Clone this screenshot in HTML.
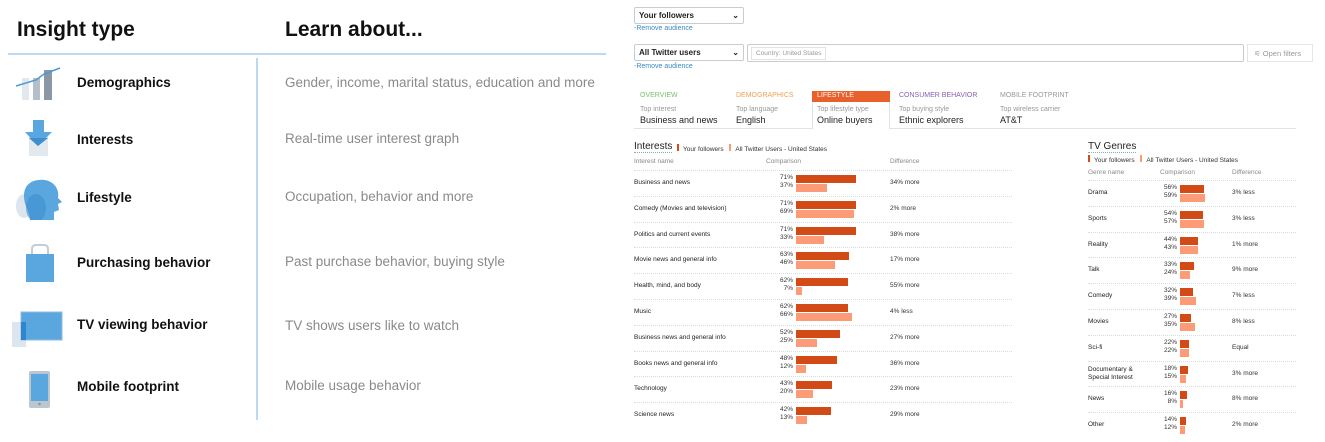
<!DOCTYPE html>
<html><head><meta charset="utf-8">
<style>
*{margin:0;padding:0;box-sizing:border-box}
body{width:1325px;height:442px;background:#fff;font-family:"Liberation Sans",sans-serif;position:relative;overflow:hidden;color:#222}
.a{position:absolute;white-space:nowrap}
.h1{font-size:21px;font-weight:bold;color:#111}
.lbl{font-size:13.5px;font-weight:bold;color:#111}
.desc{font-size:13.5px;color:#8a8a8a}
.dd{border:1px solid #c8ccd0;border-radius:2px;font-size:8px;font-weight:bold;padding:3px 4px;height:17px;background:#fff}
.link{font-size:7px;color:#3b88c3}
.tab{font-size:7px}
.tabs{font-size:7px;color:#999}
.tabv{font-size:9px;color:#222}
</style></head><body>
<div class="a h1" style="left:17px;top:18px">Insight type</div>
<div class="a h1" style="left:285px;top:18px">Learn about...</div>
<div class="a" style="left:8px;top:53px;width:598px;height:2px;background:#bcd9ef"></div>
<div class="a" style="left:256px;top:58px;width:2px;height:362px;background:#bcd9ef"></div>

<svg class="a" style="left:14px;top:66px" width="48" height="36"><rect x="8" y="12" width="7" height="22" fill="#e3e8ee"/><rect x="19" y="12" width="7" height="22" fill="#b5bfc9"/><rect x="30" y="4" width="8" height="30" fill="#8a97a4"/><polyline points="2,20 22,14 30,8 46,2" fill="none" stroke="#4a9ad6" stroke-width="1.5"/></svg>
<svg class="a" style="left:24px;top:120px" width="30" height="40"><rect x="5" y="14" width="19" height="22" fill="#e3e8ee"/><rect x="9" y="0" width="11" height="12" fill="#5aa6df"/><polygon points="1,12 28,12 14,26" fill="#5aa6df"/><polygon points="5,18 24,18 14,26" fill="#3d8fd0"/></svg>
<svg class="a" style="left:14px;top:178px" width="48" height="42"><ellipse cx="10" cy="28" rx="8" ry="12" fill="#dde5ee"/><path d="M24 2 C38 0 46 10 44 20 L48 24 L44 26 L45 32 L40 34 L40 42 L16 42 C16 34 10 28 10 18 C10 8 16 3 24 2Z" fill="#5aa6df"/><ellipse cx="22" cy="30" rx="10" ry="14" fill="#3d8fd0" opacity=".6"/></svg>
<svg class="a" style="left:24px;top:244px" width="32" height="40"><path d="M8 12 V5 Q8 1 12 1 H20 Q24 1 24 5 V12" fill="none" stroke="#c5ccd3" stroke-width="2"/><rect x="2" y="10" width="28" height="28" fill="#5aa6df"/></svg>
<svg class="a" style="left:10px;top:310px" width="54" height="38"><rect x="2" y="12" width="14" height="25" fill="#dde5ee"/><rect x="11" y="2" width="41" height="28" fill="#5aa6df" stroke="#8fbde3"/><rect x="11" y="12" width="5" height="18" fill="#2f86cd"/></svg>
<svg class="a" style="left:28px;top:370px" width="24" height="40"><rect x="1" y="1" width="21" height="37" rx="2" fill="#bcc6d0"/><rect x="3" y="4" width="17" height="27" fill="#5aa6df"/><circle cx="11.5" cy="34" r="1.3" fill="#8a97a4"/></svg>

<div class="a lbl" style="left:77px;top:75px">Demographics</div>
<div class="a lbl" style="left:77px;top:132px">Interests</div>
<div class="a lbl" style="left:77px;top:190px">Lifestyle</div>
<div class="a lbl" style="left:77px;top:255px">Purchasing behavior</div>
<div class="a lbl" style="left:77px;top:317px">TV viewing behavior</div>
<div class="a lbl" style="left:77px;top:379px">Mobile footprint</div>
<div class="a desc" style="left:285px;top:75px">Gender, income, marital status, education and more</div>
<div class="a desc" style="left:285px;top:131px">Real-time user interest graph</div>
<div class="a desc" style="left:285px;top:189px">Occupation, behavior and more</div>
<div class="a desc" style="left:285px;top:254px">Past purchase behavior, buying style</div>
<div class="a desc" style="left:285px;top:318px">TV shows users like to watch</div>
<div class="a desc" style="left:285px;top:378px">Mobile usage behavior</div>

<div class="a dd" style="left:634px;top:7px;width:110px">Your followers<span style="float:right">⌄</span></div>
<div class="a link" style="left:634px;top:25px">-Remove audience</div>
<div class="a dd" style="left:634px;top:44px;width:110px">All Twitter users<span style="float:right">⌄</span></div>
<div class="a" style="left:747px;top:44px;width:497px;height:18px;border:1px solid #c8ccd0;border-radius:2px"><span style="position:absolute;left:3px;top:2px;font-size:6.5px;color:#999;border:1px solid #e3e3e3;padding:2px 4px">Country: United States</span></div>
<div class="a" style="left:1247px;top:44px;width:66px;height:18px;border:1px solid #e6e6e6;font-size:7.5px;color:#999;padding:4px 6px">⚟ Open filters</div>
<div class="a link" style="left:634px;top:63px">-Remove audience</div>

<div class="a tab" style="left:640px;top:92px;color:#7bbf6a">OVERVIEW</div>
<div class="a tab" style="left:736px;top:92px;color:#f0a055">DEMOGRAPHICS</div>
<div class="a" style="left:812px;top:91px;width:78px;height:11px;background:#e8602c"></div>
<div class="a tab" style="left:817px;top:92px;color:#fff">LIFESTYLE</div>
<div class="a tab" style="left:899px;top:92px;color:#8a5fb0">CONSUMER BEHAVIOR</div>
<div class="a tab" style="left:1000px;top:92px;color:#999">MOBILE FOOTPRINT</div>
<div class="a" style="left:812px;top:102px;width:78px;height:27px;border:1px solid #dde3e8;border-top:none;border-bottom:none;background:#fff"></div>
<div class="a" style="left:634px;top:128px;width:178px;height:1px;background:#dde3e8"></div>
<div class="a" style="left:890px;top:128px;width:406px;height:1px;background:#dde3e8"></div>
<div class="a tabs" style="left:640px;top:106px">Top interest</div><div class="a tabv" style="left:640px;top:115px">Business and news</div>
<div class="a tabs" style="left:736px;top:106px">Top language</div><div class="a tabv" style="left:736px;top:115px">English</div>
<div class="a tabs" style="left:817px;top:106px">Top lifestyle type</div><div class="a tabv" style="left:817px;top:115px">Online buyers</div>
<div class="a tabs" style="left:899px;top:106px">Top buying style</div><div class="a tabv" style="left:899px;top:115px">Ethnic explorers</div>
<div class="a tabs" style="left:1000px;top:106px">Top wireless carrier</div><div class="a tabv" style="left:1000px;top:115px">AT&amp;T</div>

<div id="charts"></div>
<script>
const intCats=["Business and news","Comedy (Movies and television)","Politics and current events","Movie news and general info","Health, mind, and body","Music","Business news and general info","Books news and general info","Technology","Science news"];
const intFollowers=[71,71,71,63,62,62,52,48,43,42];
const intAll=[37,69,33,46,7,66,25,12,20,13];
const intDiff=["34% more","2% more","38% more","17% more","55% more","4% less","27% more","36% more","23% more","29% more"];
const tvCats=["Drama","Sports","Reality","Talk","Comedy","Movies","Sci-fi","Documentary &\nSpecial Interest","News","Other"];
const tvFollowers=[56,54,44,33,32,27,22,18,16,14];
const tvAll=[59,57,43,24,39,35,22,15,8,12];
const tvDiff=["3% less","3% less","1% more","9% more","7% less","8% less","Equal","3% more","8% more","2% more"];

const root=document.getElementById('charts');
function el(html,style){const d=document.createElement('div');d.className='a';d.style.cssText=style;d.innerHTML=html;root.appendChild(d);return d;}
function table(cfg){
  const t=el(cfg.title,`left:${cfg.x}px;top:${cfg.y}px;font-size:10px;color:#222;border-bottom:1px dotted #8ab`);
  
  
  const lg=el(`<span style="display:inline-block;width:2px;height:7px;background:#d24a16;margin-right:4px"></span>Your followers <span style="display:inline-block;width:2px;height:7px;background:#fb9b78;margin:0 4px 0 4px"></span>All Twitter Users - United States`,`left:${cfg.lx}px;top:${cfg.ly}px;font-size:6.5px;color:#333`);
  
  
  [[cfg.title==='Interests'?'Interest name':'Genre name',cfg.x],['Comparison',cfg.cx],['Difference',cfg.dx]].forEach(h=>{
    const e=el(h[0],`left:${h[1]}px;top:${cfg.hy}px;font-size:6.5px;color:#888`);
    
    
  });
  const sc=v=>v*cfg.scale;
  for(let i=0;i<cfg.cats.length;i++){
    const top=cfg.ry+i*25.8;
    const ln=el('',`left:${cfg.x}px;top:${top}px;width:${cfg.w}px;border-top:1px dotted #d8dde2`);
    
    
    const cy=top+13;
    const two=cfg.cats[i].includes('\n');
    const nm=el(cfg.cats[i].replace('\n','<br>'),`left:${cfg.x}px;top:${cy-(two?8:4)}px;font-size:6.5px;color:#222;line-height:8px`);
    
    
    const p1=el(cfg.f[i]+'%',`left:${cfg.bx-30}px;width:27px;text-align:right;top:${cy-9}px;font-size:6.5px;color:#333`);
    
    
    const p2=el(cfg.a[i]+'%',`left:${cfg.bx-30}px;width:27px;text-align:right;top:${cy-1}px;font-size:6.5px;color:#333`);
    
    
    const b1=el('',`left:${cfg.bx}px;top:${cy-8}px;width:${sc(cfg.f[i])}px;height:8px;background:#d24a16`);
    
    
    const b2=el('',`left:${cfg.bx}px;top:${cy+1}px;width:${sc(cfg.a[i])}px;height:8px;background:#fb9b78`);
    
    
    const df=el(cfg.d[i],`left:${cfg.dx}px;top:${cy-4}px;font-size:6.5px;color:#333`);
    
    
  }
}
table({key:'interests',title:'Interests',x:634,y:141,lx:677,ly:144,hy:158,ry:170,cx:766,dx:890,bx:796,w:378,scale:0.845,cats:intCats,f:intFollowers,a:intAll,d:intDiff});
table({key:'tv-genres',title:'TV Genres',x:1088,y:141,lx:1088,ly:155,hy:169,ry:180,cx:1160,dx:1232,bx:1180,w:208,scale:0.42,cats:tvCats,f:tvFollowers,a:tvAll,d:tvDiff});
</script>
</body></html>
